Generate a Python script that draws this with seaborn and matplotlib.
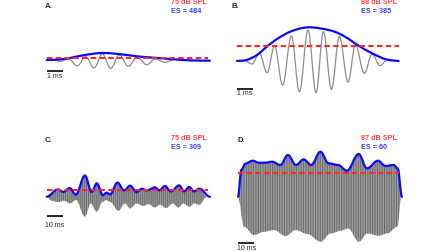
import numpy as np
import pandas as pd
import matplotlib
matplotlib.use('Agg')
import matplotlib.pyplot as plt
import seaborn as sns
from matplotlib.path import Path
from matplotlib.patches import PathPatch

sns.set_style('white')
plt.rcParams['font.family'] = ['Liberation Sans', 'DejaVu Sans']
plt.rcParams['hatch.linewidth'] = 0.7

# --- panel A : 1 kHz tone, 75 dB SPL (time in ms, amplitude in a.u.)
A_wave_t = [0.4, 0.83, 1.35, 1.92, 2.43, 2.96, 3.48, 4.0, 4.54, 5.1, 5.66, 6.25, 6.77, 7.4, 7.9]
A_wave_a = [0, -1.3, 1.0, -5.7, 3.3, -8.0, 6.0, -8.3, 5.0, -6.3, 2.7, -4.7, 1.0, -2.3, 0]
A_env_t = [0, 0.7, 1.46, 2.3, 3.44, 4.6, 5.8, 6.96, 8.0, 9.0, 10.2]
A_env_a = [0, 0.4, 2.0, 4.8, 7.0, 5.8, 3.4, 2.0, 0.6, -0.4, -0.7]
A_thr = 2.0

# --- panel B : 88 dB SPL
B_wave_t = [0, 0.45, 0.94, 1.4, 1.88, 2.35, 2.85, 3.4, 3.9, 4.44, 4.94, 5.4, 5.9,
            6.4, 6.94, 7.4, 7.96, 8.44, 8.96, 9.3]
B_wave_a = [0, 0.5, -3, 7.7, -11.7, 15, -24, 25, -30.7, 31, -31.7, 29.3, -28.3,
            24.3, -21, 16, -12.3, 6.7, -4.7, 0]
B_env_t = [0, 0.6, 1.25, 1.94, 2.6, 3.44, 4.5, 5.9, 6.75, 7.6, 8.44, 9.3, 10.1]
B_env_a = [0, 1, 6, 15.3, 23.0, 30.0, 33.7, 30.3, 24.3, 15.3, 7.7, 1.7, 0]
B_thr = 15.3

# --- panel C : speech-like, 75 dB SPL
C_env_t = [0, 7.0, 10.4, 14.4, 18.2, 23.9, 28.1, 31.3, 35.1, 37.4, 39.6, 44.2, 48.4,
           52.1, 56.2, 59.4, 62.5, 67.7, 70.4, 73.9, 77.5, 82.9, 85.8, 89.1, 92.1, 95.4, 102]
C_env_a = [0, 7.3, 4.8, 8.6, 2.0, 21.2, 4.7, 13.3, 1.5, 4.0, 2.3, 14.1, 6.3,
           11.0, 4.5, 8.0, 6.3, 9.3, 6.3, 10.7, 5.3, 11.3, 5.3, 9.7, 5.3, 8.0, 0]
C_low_t = [0, 3.1, 7.3, 10.8, 14.6, 18.3, 23.9, 27.5, 31.2, 35, 37.1, 39.6, 44.8, 48.9,
           52.1, 56.2, 60.4, 63.5, 67.7, 70.8, 74.6, 78.7, 82.3, 85.4, 89.2, 92.1, 95.4, 100]
C_low_a = [0, -4, -5.3, -4, -6.7, -3.3, -20, -6.7, -15, -5, -3.3, -5, -14, -6.7,
           -11.7, -6.7, -9.3, -7.3, -10.7, -8, -11.3, -6.7, -10.7, -6.7, -10, -6.7, -8, 0]
C_thr = 6.3

# --- panel D : noise-like, 87 dB SPL
D_env_t = [0, 2.1, 4.6, 9.2, 12.9, 17.1, 21.3, 26.5, 31.2, 36.2, 41, 45.8, 51.5,
           56.7, 62.5, 68.1, 75.4, 80.6, 87.5, 92.1, 97.3, 99.8, 102.5]
D_env_a = [0, 26.7, 33.0, 36, 34, 34, 35, 31.7, 41.7, 31.7, 37.3, 31.7, 45,
           33.3, 31.7, 26, 42.7, 28.3, 36, 30.7, 31.7, 28.3, 0]
D_low_t = [0, 3.75, 10, 16.25, 22.5, 29.8, 36, 43.3, 51.7, 57.9, 64.2, 68.8,
           75.6, 80.8, 88.1, 93.3, 99.6, 102.1]
D_low_a = [0, -30, -38.3, -35, -33.3, -39.3, -33.3, -37.3, -45, -36.7, -34, -31.7,
           -45, -36.7, -39, -36.7, -30, 0]
D_thr = 24.0

labels = ['A.', 'B.', 'C.', 'D.']
spl_text = ['75 dB SPL', '88 dB SPL', '75 dB SPL', '87 dB SPL']
es_text = ['ES = 484', 'ES = 385', 'ES = 309', 'ES = 60']
bar_text = ['1 ms', '1 ms', '10 ms', '10 ms']

W, H = 448, 252
BLUE, RED, GRAY = '#0a0aff', '#ff2525', '#8c8c8c'
RED_T, BLUE_T = '#ff4040', '#4040ff'


def flat_bezier(t, a):
    # cubic segments with flat tangents at every knot (sine-like half cycles)
    v = [(t[0], a[0])]
    c = [Path.MOVETO]
    for i in range(len(t) - 1):
        dx = t[i + 1] - t[i]
        v += [(t[i] + 0.364 * dx, a[i]), (t[i + 1] - 0.364 * dx, a[i + 1]), (t[i + 1], a[i + 1])]
        c += [Path.CURVE4] * 3
    return v, c


def cr_bezier(t, a):
    # catmull-rom through the knots
    p = np.column_stack([t, a]).astype(float)
    v = [tuple(p[0])]
    c = [Path.MOVETO]
    n = len(p)
    for i in range(n - 1):
        p0 = p[max(i - 1, 0)]
        p1, p2 = p[i], p[i + 1]
        p3 = p[min(i + 2, n - 1)]
        v += [tuple(p1 + (p2 - p0) / 6), tuple(p2 - (p3 - p1) / 6), tuple(p2)]
        c += [Path.CURVE4] * 3
    return v, c


def add_panel(x0, x1, ybase, half, px_per_ms):
    ax = fig.add_axes([x0 / W, 1 - (ybase + half) / H, (x1 - x0) / W, 2 * half / H])
    ax.set_axis_off()
    ax.set_xlim(0, (x1 - x0) / px_per_ms)
    ax.set_ylim(-half, half)
    return ax


def draw_line(ax, v, c, color, lw, z):
    ax.add_patch(PathPatch(Path(v, c), fill=False, edgecolor=color, lw=lw,
                           zorder=z, capstyle='round', joinstyle='round', clip_on=False))


def draw_fill(ax, top_t, top_a, low_t, low_a, hatch):
    vt, ct = flat_bezier(top_t, top_a)
    vl, cl = flat_bezier(low_t[::-1], low_a[::-1])
    v = vt + vl + [vt[0]]
    c = ct + [Path.LINETO] + cl[1:] + [Path.CLOSEPOLY]
    ax.add_patch(PathPatch(Path(v, c), facecolor='#9c9c9c', edgecolor='#6a6a6a',
                           lw=0, hatch=hatch, zorder=1, clip_on=False))


def draw_thr(ax, t_end, level):
    df = pd.DataFrame({'t': [0, t_end], 'a': [level, level]})
    sns.lineplot(data=df, x='t', y='a', ax=ax, color=RED, lw=1.5,
                 linestyle=(0, (2.6, 1.6)), zorder=4)
    ax.set_axis_off()


fig = plt.figure(figsize=(W / 100, H / 100), dpi=100)

# A
axA = add_panel(46.7, 210, 60, 40, 16)
v, c = flat_bezier(A_wave_t, A_wave_a)
draw_line(axA, v, c, GRAY, 0.9, 2)
v, c = cr_bezier(A_env_t, A_env_a)
draw_line(axA, v, c, BLUE, 1.6, 3)
draw_thr(axA, 10.1, A_thr)

# B
axB = add_panel(237, 401, 61, 40, 16)
v, c = flat_bezier(B_wave_t, B_wave_a)
draw_line(axB, v, c, GRAY, 0.9, 2)
v, c = cr_bezier(B_env_t, B_env_a)
draw_line(axB, v, c, BLUE, 1.6, 3)
draw_thr(axB, 10.1, B_thr)

# C
axC = add_panel(46.7, 210, 196.7, 40, 1.6)
draw_fill(axC, C_env_t[:-1] + [100], C_env_a[:-1] + [0], C_low_t, C_low_a, '||||||||')
v, c = flat_bezier(C_env_t, C_env_a)
draw_line(axC, v, c, BLUE, 1.6, 3)
draw_thr(axC, 101, C_thr)

# D
axD = add_panel(238, 402, 196.7, 50, 1.6)
draw_fill(axD, D_env_t, D_env_a, D_low_t, D_low_a, '|||||||')
v, c = flat_bezier(D_env_t, D_env_a)
draw_line(axD, v, c, BLUE, 1.6, 3)
draw_thr(axD, 100.4, D_thr)

# scale bars (1 ms / 10 ms)
for ax, length, y in [(axA, 1, -11), (axB, 1, -28.3), (axC, 10, -19.6), (axD, 10, -46.6)]:
    ax.plot([0, length], [y, y], color='black', lw=1.2, clip_on=False, solid_capstyle='butt')

# text
lab_pos = [(45, 2.5), (231, 2.5), (45, 136.5), (237, 137.5)]
txt_pos = [(170.7, -0.5), (360.7, -0.5), (170.7, 135.5), (360.7, 135.5)]
bar_pos = [(46.5, 73.0), (236.5, 89.8), (45, 222.0), (236.5, 245.5)]
for i in range(4):
    fig.text(lab_pos[i][0] / W, 1 - lab_pos[i][1] / H, labels[i], fontsize=5.6,
             fontweight='bold', va='top', ha='left')
    fig.text(txt_pos[i][0] / W, 1 - txt_pos[i][1] / H, spl_text[i], fontsize=5.2,
             fontweight='bold', color=RED_T, va='top', ha='left')
    fig.text(txt_pos[i][0] / W, 1 - (txt_pos[i][1] + 8.3) / H, es_text[i], fontsize=5.2,
             fontweight='bold', color=BLUE_T, va='top', ha='left')
    fig.text(bar_pos[i][0] / W, 1 - bar_pos[i][1] / H, bar_text[i], fontsize=5.0,
             va='top', ha='left')

fig.savefig('out.png', dpi=100)
